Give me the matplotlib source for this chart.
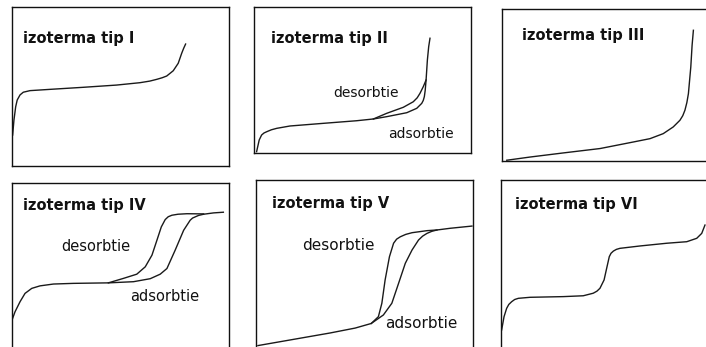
import matplotlib.pyplot as plt

# x = p/p0 in % of box width, y = amount adsorbed in % of box height
t1_x = [0.3, 0.9, 1.7, 2.4, 3.7, 5.2, 8.3, 17.5, 32.9, 48.2, 59.0, 63.5, 66.7, 69.2, 71.3, 74.3, 76.6, 78.2, 79.1, 80.0]
t1_y = [19.5, 28.9, 37.3, 41.5, 44.7, 46.4, 47.4, 48.2, 49.5, 50.9, 52.4, 53.4, 54.5, 55.5, 56.6, 59.9, 64.6, 70.9, 74.0, 76.7]

t2_ads_x = [1.2, 2.4, 3.5, 4.6, 5.9, 8.0, 10.5, 16.6, 31.8, 47.3, 55.0, 61.2, 70.4, 75.0, 77.3, 78.0, 78.5, 78.9, 79.3, 79.9, 80.5, 81.1]
t2_ads_y = [0.9, 8.9, 12.3, 13.7, 14.6, 15.9, 16.9, 18.5, 20.3, 22.1, 23.3, 24.9, 27.6, 30.6, 34.0, 36.0, 38.6, 43.0, 50.0, 63.7, 72.8, 78.6]
t2_des_x = [55.0, 61.2, 68.8, 73.4, 75.2, 76.5, 78.0, 79.3]
t2_des_y = [23.3, 27.2, 31.3, 35.1, 37.8, 40.9, 45.4, 50.0]

t3_x = [2.2, 12.9, 28.2, 45.2, 60.5, 68.2, 74.3, 78.9, 82.0, 83.3, 84.3, 85.2, 85.9, 87.0, 87.6, 88.2]
t3_y = [0.5, 2.6, 5.3, 8.2, 12.5, 14.7, 18.0, 22.4, 26.8, 29.8, 33.4, 38.5, 44.3, 61.8, 76.1, 86.0]

t4_ads_x = [0, 1.4, 3.7, 6.0, 9.1, 12.9, 19.1, 28.3, 44.4, 56.0, 63.7, 68.3, 71.4, 75.2, 79.1, 82.1, 83.2, 84.4, 86.0, 88.3, 92.9, 97.4]
t4_ads_y = [17.9, 22.9, 28.9, 33.9, 36.9, 38.4, 39.5, 39.9, 40.2, 40.9, 42.7, 45.4, 48.8, 59.8, 71.7, 77.7, 79.0, 79.7, 80.6, 81.3, 82.1, 82.5]
t4_des_x = [44.4, 51.4, 57.5, 61.4, 64.5, 66.8, 68.8, 70.6, 72.0, 73.7, 76.5, 80.6, 88.3]
t4_des_y = [40.2, 42.9, 45.4, 49.8, 56.8, 65.8, 73.7, 78.1, 79.8, 80.7, 81.3, 81.6, 81.5]

t5_ads_x = [0.9, 15.7, 34.1, 45.7, 53.1, 58.7, 62.6, 65.7, 68.8, 71.9, 74.9, 76.8, 78.8, 81.0, 83.4, 89.5, 99.5]
t5_ads_y = [2.6, 5.9, 10.0, 12.9, 15.6, 20.6, 27.5, 39.2, 51.0, 58.8, 64.7, 67.0, 68.6, 69.8, 70.6, 71.6, 72.9]
t5_des_x = [53.1, 56.4, 58.0, 59.5, 61.5, 63.4, 64.8, 66.5, 69.0, 71.9, 78.8, 83.4]
t5_des_y = [15.6, 19.6, 27.5, 41.2, 54.9, 62.8, 65.2, 66.6, 68.0, 69.0, 70.2, 70.6]

t6_x = [0.3, 1.4, 2.6, 3.6, 4.9, 6.3, 8.0, 13.4, 28.7, 37.9, 42.5, 44.2, 45.6, 47.5, 48.7, 49.9, 50.7, 51.8, 53.2, 54.8, 64.1, 76.4, 85.6, 90.2, 92.5, 94.0]
t6_y = [11.8, 19.6, 24.5, 26.8, 28.4, 29.7, 30.4, 31.0, 31.4, 31.9, 33.4, 34.6, 36.3, 41.2, 48.1, 54.9, 56.9, 58.2, 59.2, 59.8, 61.2, 62.8, 63.7, 65.7, 68.6, 73.5]

titles = ["izoterma tip I", "izoterma tip II", "izoterma tip III",
          "izoterma tip IV", "izoterma tip V", "izoterma tip VI"]

W, H = 706, 347
fig = plt.figure(figsize=(W / 100, H / 100), dpi=100)

def box(left, top, w, h):
    ax = fig.add_axes([left / W, (H - top - h) / H, w / W, h / H])
    ax.set_xlim(0, 100)
    ax.set_ylim(0, 100)
    ax.set_xticks([])
    ax.set_yticks([])
    for s in ax.spines.values():
        s.set_linewidth(1.0)
        s.set_color("#111111")
    return ax

line = dict(color="#1a1a1a", lw=1.0)
tfont = dict(family="DejaVu Sans", fontweight="bold", fontsize=10.5, color="#111111", va="baseline")
lfont = dict(family="DejaVu Sans", fontsize=10, color="#111111", va="baseline")

ax1 = box(12, 7, 217, 159)
ax1.plot(t1_x, t1_y, **line)
ax1.text(5.1, 77.5, titles[0], **tfont)

ax2 = box(254, 7, 217, 146)
ax2.plot(t2_ads_x, t2_ads_y, **line)
ax2.plot(t2_des_x, t2_des_y, **line)
ax2.text(7.7, 75.1, titles[1], **tfont)
ax2.text(36.5, 38.6, "desorbtie", **lfont)
ax2.text(61.9, 10.5, "adsorbtie", **lfont)

ax3 = box(502, 9, 217, 152)
ax3.plot(t3_x, t3_y, **line)
ax3.text(9.1, 79.4, titles[2], **tfont)

ax4 = box(12, 183, 217, 167)
ax4.plot(t4_ads_x, t4_ads_y, **line)
ax4.plot(t4_des_x, t4_des_y, **line)
ax4.text(4.9, 83.7, titles[3], **tfont)
ax4.text(22.6, 59.2, "desorbtie", **dict(lfont, fontsize=10.5))
ax4.text(54.5, 29.3, "adsorbtie", **dict(lfont, fontsize=10.5))

ax5 = box(256, 180, 217, 170)
ax5.plot(t5_ads_x, t5_ads_y, **line)
ax5.plot(t5_des_x, t5_des_y, **line)
ax5.text(7.2, 83.7, titles[4], **tfont)
ax5.text(21.1, 58.8, "desorbtie", **dict(lfont, fontsize=11))
ax5.text(59.5, 12.8, "adsorbtie", **dict(lfont, fontsize=11))

ax6 = box(501, 180, 217, 170)
ax6.plot(t6_x, t6_y, **line)
ax6.text(6.5, 82.8, titles[5], **tfont)

fig.savefig("out.png", dpi=100)
